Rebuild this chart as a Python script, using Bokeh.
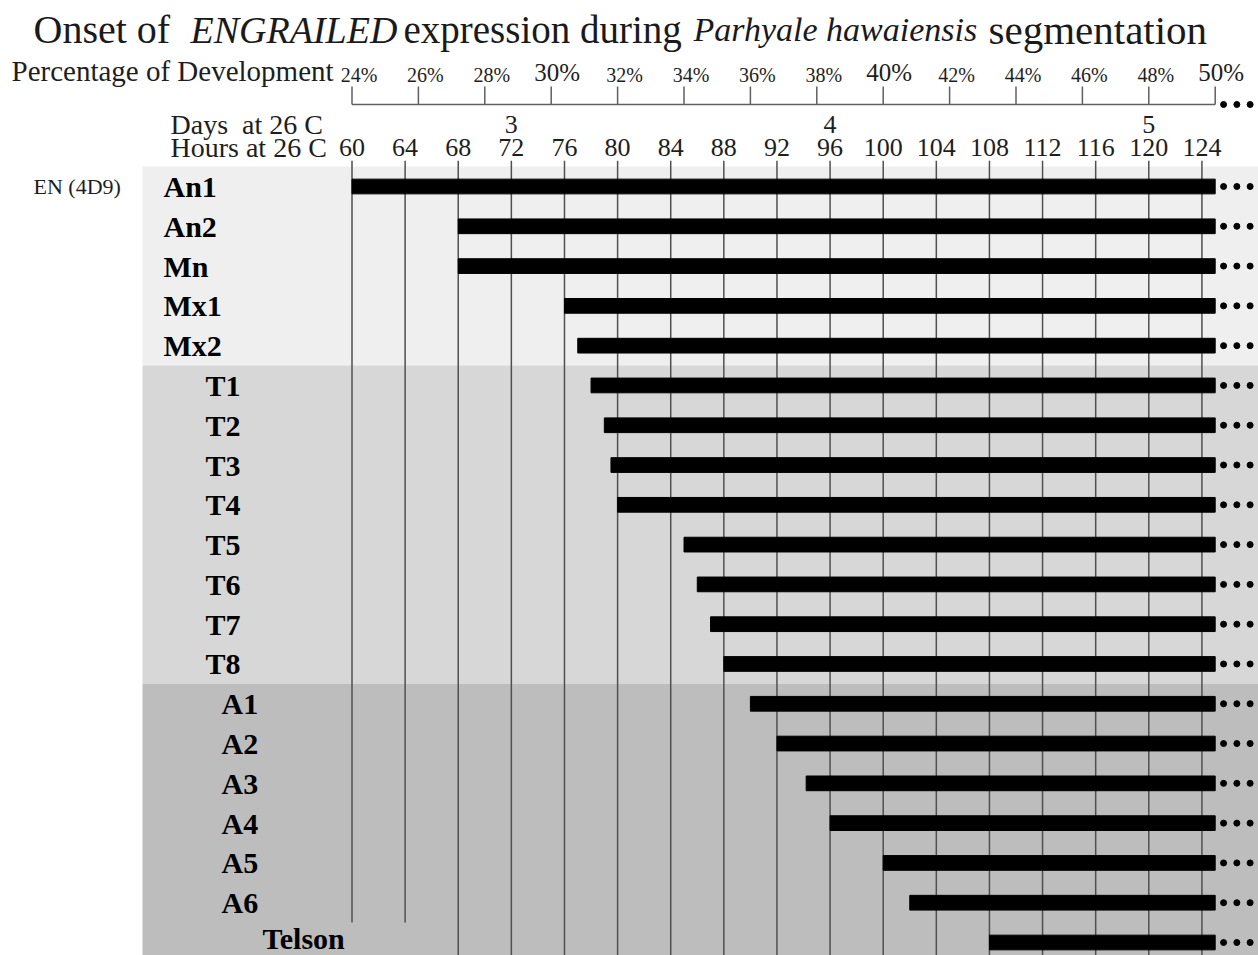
from bokeh.plotting import figure
from bokeh.models import Range1d
from bokeh.embed import file_html
from bokeh.resources import INLINE
from bokeh.core.properties import value

# ---------------- data ----------------
segments = ["An1", "An2", "Mn", "Mx1", "Mx2",
            "T1", "T2", "T3", "T4", "T5", "T6", "T7", "T8",
            "A1", "A2", "A3", "A4", "A5", "A6", "Telson"]
onset_hours = [60, 68, 68, 76, 77,
               78, 79, 79.5, 80, 85, 86, 87, 88,
               90, 92, 94.2, 96, 100, 102, 108]
tagma = ["head"] * 5 + ["thorax"] * 8 + ["abdomen"] * 7
observed_until_hours = 125          # = 50% of development, expression continues (...)
antibody = "EN (4D9)"

hour_ticks = [60, 64, 68, 72, 76, 80, 84, 88, 92, 96, 100, 104, 108, 112, 116, 120, 124]
day_ticks = [3, 4, 5]
pct_ticks = [24, 26, 28, 30, 32, 34, 36, 38, 40, 42, 44, 46, 48, 50]
pct_major = [30, 40, 50]
hours_per_pct = 2.5                 # 50% development = 125 h
hours_per_day = 24

title_parts = [("Onset of", "normal"), ("ENGRAILED", "italic"),
               ("expression during", "normal"), ("Parhyale hawaiensis", "italic"),
               ("segmentation", "normal")]
pct_axis_label = "Percentage of Development"
day_axis_label = "Days\u00a0 at 26 C"
hour_axis_label = "Hours at 26 C"

# ---------------- layout / style ----------------
W, H = 1258, 955
PX_PER_HOUR = 13.28
X60 = 351.5            # screen x of hour 60
ROW0 = 186.0           # screen y of first row
ROW_H = 39.79
FONT = value("Liberation Serif")
TXT = "#1e1e1e"
BAND_COLORS = {"head": "#efefef", "thorax": "#d7d7d7", "abdomen": "#bdbdbd"}
LABEL_INDENT = {"head": 163, "thorax": 205, "abdomen": 221}
TELSON_EXTRA = 41
GRID_COLOR = "#505050"
AXIS_COLOR = "#606060"

h0 = 60 - X60 / PX_PER_HOUR
h1 = 60 + (W - X60) / PX_PER_HOUR

p = figure(width=W, height=H, output_backend="svg", toolbar_location=None,
           x_range=Range1d(h0, h1),
           y_range=Range1d((H - ROW0) / ROW_H, -ROW0 / ROW_H),
           min_border=0, background_fill_color="white", border_fill_color="white")
p.extra_x_ranges = {"px": Range1d(0, W),
                    "pct": Range1d(h0 / hours_per_pct, h1 / hours_per_pct),
                    "day": Range1d(h0 / hours_per_day, h1 / hours_per_day)}
p.extra_y_ranges = {"px": Range1d(H, 0)}
p.xaxis.visible = False
p.yaxis.visible = False
p.grid.visible = False
p.outline_line_color = None

rows = list(range(len(segments)))

# background bands per tagma
for g in ["head", "thorax", "abdomen"]:
    idx = [i for i, t in enumerate(tagma) if t == g]
    p.quad(left=[142], right=[W], top=[min(idx) - 0.5], bottom=[max(idx) + 0.5],
           x_range_name="px", fill_color=BAND_COLORS[g], line_color=None)

# vertical hour gridlines (first two stop above the Telson label)
grid_ends = [18.5 if h < 68 else 19.6 for h in hour_ticks]
p.segment(x0=hour_ticks, x1=hour_ticks, y0=[-0.65] * len(hour_ticks), y1=grid_ends,
          line_color=GRID_COLOR, line_width=1.5)

# expression bars
p.hbar(y=rows, left=onset_hours, right=[observed_until_hours] * len(rows),
       height=0.37, fill_color="black", line_color="black")

# continuation dots
dot_steps = [0.63, 1.63, 2.63]
dx, dy = [], []
for r in rows:
    for s in dot_steps:
        dx.append(observed_until_hours + s)
        dy.append(r)
p.scatter(x=dx, y=dy, size=6, color="black")

# row labels
lab_x = [LABEL_INDENT[t] + (TELSON_EXTRA if s == "Telson" else 0) for s, t in zip(segments, tagma)]
lab_dy = [-4 if s == "Telson" else 0 for s in segments]
p.text(x=lab_x, y=rows, text=segments, y_offset=lab_dy, x_range_name="px", text_font=FONT,
       text_font_size="30px", text_font_style="bold", text_baseline="middle",
       text_align="left", text_color="black")
p.text(x=[33], y=[0], text=[antibody], x_range_name="px", text_font=FONT,
       text_font_size="22px", text_baseline="middle", text_align="left", text_color=TXT)

# ---- percentage-of-development axis (top) ----
p.segment(x0=[pct_ticks[0]], x1=[pct_ticks[-1]], y0=[104], y1=[104],
          x_range_name="pct", y_range_name="px", line_color=AXIS_COLOR, line_width=1.5)
p.segment(x0=pct_ticks, x1=pct_ticks, y0=[86] * len(pct_ticks), y1=[104] * len(pct_ticks),
          x_range_name="pct", y_range_name="px", line_color=AXIS_COLOR, line_width=1.5)
minor = [t for t in pct_ticks if t not in pct_major]
p.text(x=minor, y=[74] * len(minor), text=[f"{t}%" for t in minor],
       x_range_name="pct", y_range_name="px", x_offset=7, text_font=FONT,
       text_font_size="20px", text_align="center", text_baseline="middle",
       text_color=TXT)
p.text(x=pct_major, y=[72] * len(pct_major), text=[f"{t}%" for t in pct_major],
       x_range_name="pct", y_range_name="px", x_offset=6, text_font=FONT,
       text_font_size="25px", text_align="center", text_baseline="middle",
       text_color=TXT)
p.scatter(x=[pct_ticks[-1] + s / hours_per_pct for s in dot_steps], y=[104] * 3,
          x_range_name="pct", y_range_name="px", size=6, color="black")
p.text(x=[11], y=[70], text=[pct_axis_label], x_range_name="px", y_range_name="px",
       text_font=FONT, text_font_size="29px", text_align="left",
       text_baseline="middle", text_color=TXT)

# ---- days / hours axes ----
p.text(x=day_ticks, y=[124] * len(day_ticks), text=[str(d) for d in day_ticks],
       x_range_name="day", y_range_name="px", text_font=FONT, text_font_size="26px",
       text_align="center", text_baseline="middle", text_color=TXT)
p.text(x=hour_ticks, y=[147] * len(hour_ticks), text=[str(h) for h in hour_ticks],
       y_range_name="px", text_font=FONT, text_font_size="26px",
       text_align="center", text_baseline="middle", text_color=TXT)
p.text(x=[170, 170], y=[124, 147], text=[day_axis_label, hour_axis_label],
       x_range_name="px", y_range_name="px", text_font=FONT, text_font_size="28px",
       text_align="left", text_baseline="middle", text_color=TXT)

# ---- title ----
title_x = [33, 190, 403, 693, 988]
title_sizes = ["40px", "38px", "39px", "34px", "41px"]
for (txt, style), tx, ts in zip(title_parts, title_x, title_sizes):
    p.text(x=[tx], y=[29], text=[txt], x_range_name="px", y_range_name="px",
           text_font=FONT, text_font_size=ts, text_font_style=style,
           text_align="left", text_baseline="middle", text_color="#1a1a1a")

open("out.html", "w").write(file_html(p, INLINE))
